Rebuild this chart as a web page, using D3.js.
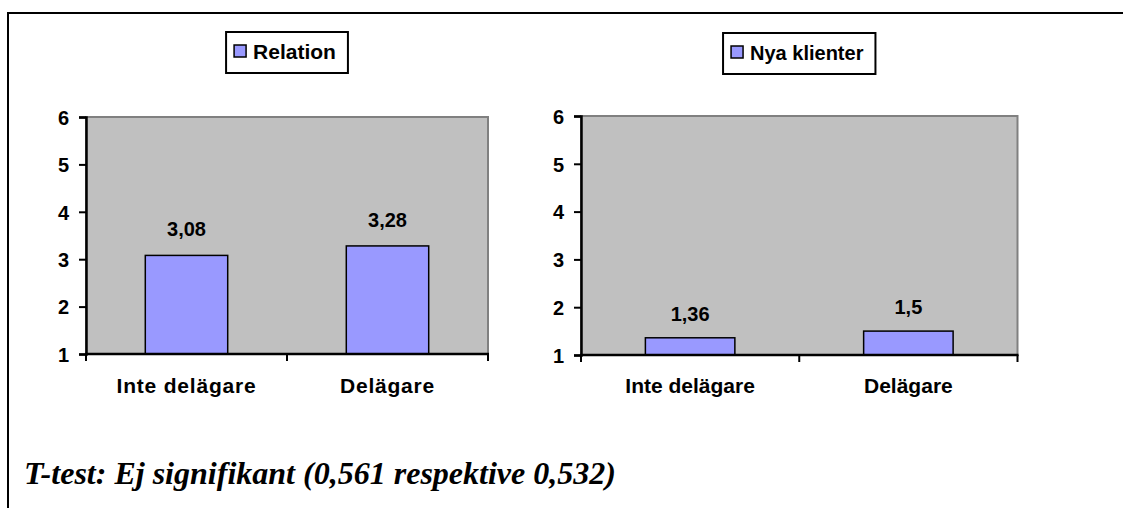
<!DOCTYPE html>
<html>
<head>
<meta charset="utf-8">
<script src="https://cdn.jsdelivr.net/npm/d3@7"></script>
<style>
  body { margin: 0; background: #fff; }
  text { fill: #000; }
</style>
</head>
<body>
<div id="chart"></div>
<script>
// Data
var categories = ["Inte delägare", "Delägare"];
var relationValues = [3.08, 3.28];
var nyaKlienterValues = [1.36, 1.5];
var seriesNames = ["Relation", "Nya klienter"];
var yTicks = [1, 2, 3, 4, 5, 6];
var noteText = "T-test: Ej signifikant (0,561 respektive 0,532)";

var width = 1123, height = 508;
var sans = "Arial, 'Liberation Sans', sans-serif";

var svg = d3.select("#chart")
    .append("svg")
    .attr("width", width)
    .attr("height", height);

// Outer frame (top and left only, rest is cut off)
svg.append("line")
    .attr("x1", 8).attr("y1", 13).attr("x2", width).attr("y2", 13)
    .attr("stroke", "#000").attr("stroke-width", 2);
svg.append("line")
    .attr("x1", 8).attr("y1", 12).attr("x2", 8).attr("y2", height)
    .attr("stroke", "#000").attr("stroke-width", 2);

function comma(v) { return String(v).replace(".", ","); }

function drawChart(opt) {
    var g = svg.append("g")
        .style("font-family", sans)
        .style("font-weight", "bold");

    var x = d3.scaleBand()
        .domain(categories)
        .range([opt.left, opt.right])
        .paddingInner(0.59)
        .paddingOuter(0.295);

    var y = d3.scaleLinear()
        .domain([1, 6])
        .range([opt.bottom, opt.top]);

    // Plot area
    g.append("rect")
        .attr("x", opt.left).attr("y", opt.top)
        .attr("width", opt.right - opt.left)
        .attr("height", opt.bottom - opt.top)
        .attr("fill", "#c0c0c0")
        .attr("stroke", "#808080")
        .attr("stroke-width", 2);

    // Bars
    g.selectAll(".bar")
        .data(opt.values)
        .enter().append("rect")
        .attr("class", "bar")
        .attr("x", function(d, i) { return x(categories[i]); })
        .attr("y", function(d) { return y(d); })
        .attr("width", x.bandwidth())
        .attr("height", function(d) { return y(1) - y(d); })
        .attr("fill", "#9999ff")
        .attr("stroke", "#000")
        .attr("stroke-width", 1.5);

    // Value labels
    g.selectAll(".val")
        .data(opt.values)
        .enter().append("text")
        .attr("class", "val")
        .attr("x", function(d, i) { return x(categories[i]) + x.bandwidth() / 2; })
        .attr("y", function(d) { return y(d) - opt.labelGap; })
        .attr("text-anchor", "middle")
        .style("font-size", "20px")
        .text(comma);

    // Y axis
    var yAxis = g.append("g")
        .attr("transform", "translate(" + opt.left + ",0)")
        .call(d3.axisLeft(y).tickValues(yTicks).tickSize(7).tickPadding(10).tickFormat(d3.format("d")));
    yAxis.select(".domain").attr("stroke", "#000").attr("stroke-width", 2.5);
    yAxis.selectAll(".tick line").attr("stroke", "#000").attr("stroke-width", 2);
    yAxis.selectAll(".tick text")
        .style("font-size", "20px")
        .style("font-family", sans)
        .style("font-weight", "bold")
        .attr("dy", "0.36em");

    // X axis: ticks on band boundaries
    var bounds = [opt.left].concat(categories.map(function(c) { return x(c) + x.bandwidth() / 2 + x.step() / 2; }));
    g.append("line")
        .attr("x1", opt.left - 1).attr("x2", opt.right + 1)
        .attr("y1", opt.bottom).attr("y2", opt.bottom)
        .attr("stroke", "#000").attr("stroke-width", 2.5);
    g.selectAll(".xtick")
        .data(bounds)
        .enter().append("line")
        .attr("x1", function(d) { return d; }).attr("x2", function(d) { return d; })
        .attr("y1", opt.bottom).attr("y2", opt.bottom + 7)
        .attr("stroke", "#000").attr("stroke-width", 2);
    g.selectAll(".cat")
        .data(categories)
        .enter().append("text")
        .attr("x", function(d) { return x(d) + x.bandwidth() / 2; })
        .attr("y", 393)
        .attr("text-anchor", "middle")
        .style("font-size", "21px")
        .style("letter-spacing", opt.catSpacing + "px")
        .text(function(d) { return d; });

    // Legend
    var cx = (opt.left + opt.right) / 2;
    var lg = g.append("g");
    var box = lg.append("rect")
        .attr("fill", "#fff").attr("stroke", "#000").attr("stroke-width", 2);
    var sq = lg.append("rect")
        .attr("width", 12).attr("height", 12)
        .attr("fill", "#9999ff").attr("stroke", "#000").attr("stroke-width", 1.5);
    var lt = lg.append("text")
        .style("font-size", opt.legendFont)
        .text(opt.name);
    var tw = lt.node().getComputedTextLength();
    var bw = 8 + 12 + 7 + tw + 12;
    var bx = cx - bw / 2;
    box.attr("x", bx).attr("y", opt.legendTop).attr("width", bw).attr("height", 41);
    sq.attr("x", bx + 8).attr("y", opt.legendTop + 13);
    lt.attr("x", bx + 27).attr("y", opt.legendTop + 27);
}

drawChart({
    name: seriesNames[0], values: relationValues,
    left: 86, right: 488, top: 117, bottom: 354,
    labelGap: 19, catSpacing: 0.8, legendFont: "21px", legendTop: 32
});

drawChart({
    name: seriesNames[1], values: nyaKlienterValues,
    left: 581, right: 1017.5, top: 116, bottom: 355,
    labelGap: 17, catSpacing: 0, legendFont: "20px", legendTop: 33
});

// Footnote
svg.append("text")
    .attr("x", 24)
    .attr("y", 484)
    .style("font-family", "'Times New Roman', 'Liberation Serif', serif")
    .style("font-style", "italic")
    .style("font-weight", "bold")
    .style("font-size", "31px")
    .attr("textLength", 592)
    .attr("lengthAdjust", "spacingAndGlyphs")
    .text(noteText);
</script>
</body>
</html>
